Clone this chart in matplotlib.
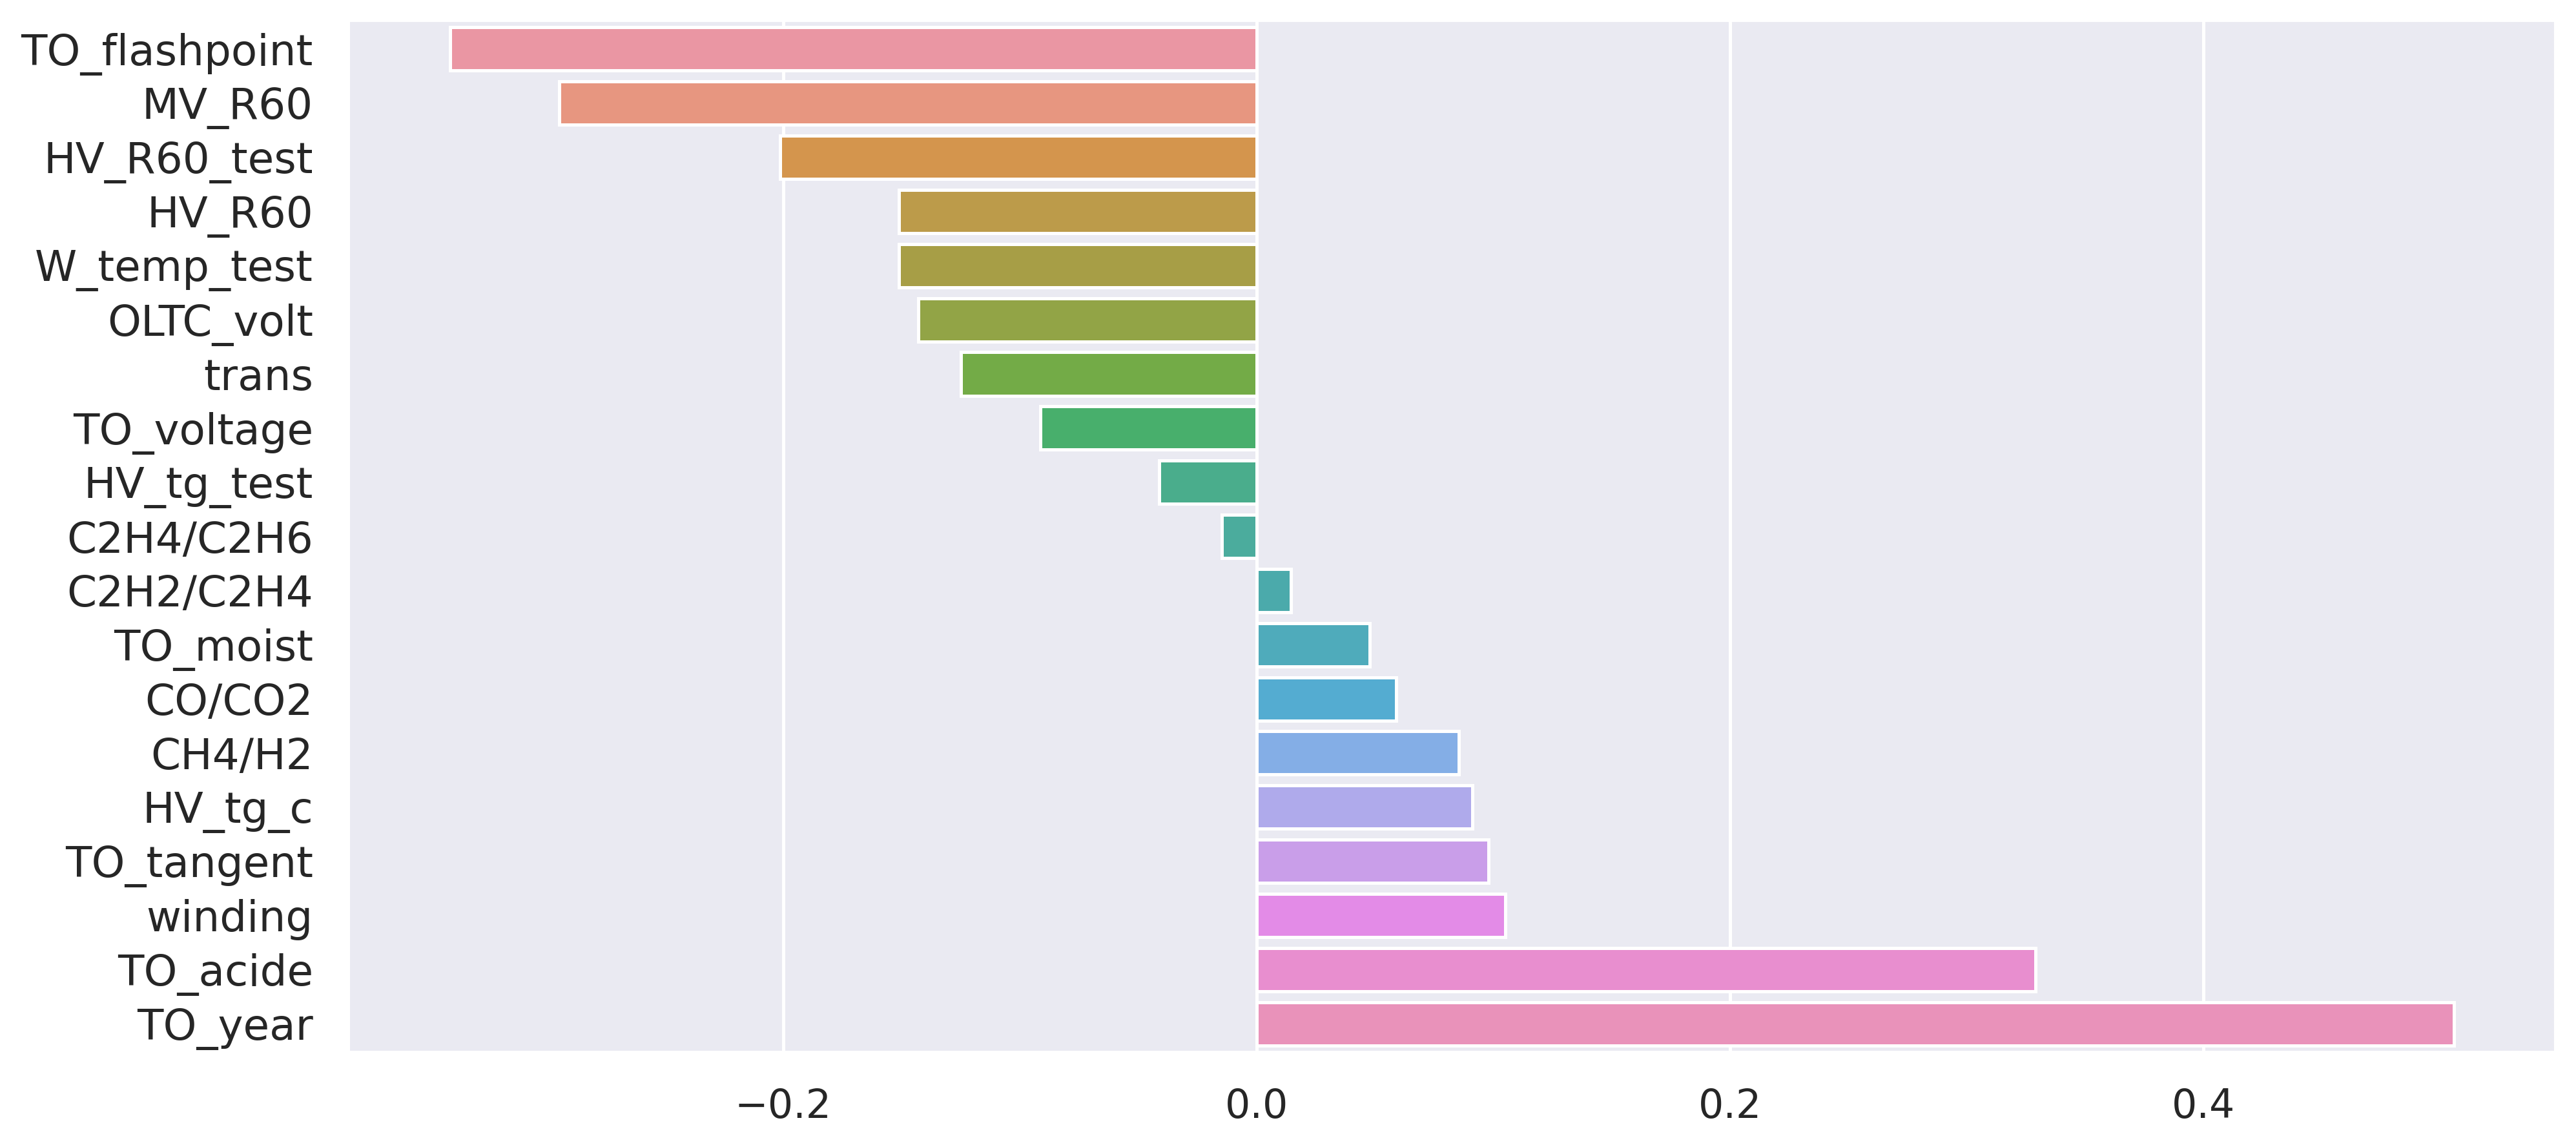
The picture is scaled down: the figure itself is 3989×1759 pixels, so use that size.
import matplotlib
matplotlib.use("Agg")
import matplotlib.pyplot as plt
import seaborn as sns

# correlation of each feature, sorted
features = ["TO_flashpoint", "MV_R60", "HV_R60_test", "HV_R60", "W_temp_test",
            "OLTC_volt", "trans", "TO_voltage", "HV_tg_test", "C2H4/C2H6",
            "C2H2/C2H4", "TO_moist", "CO/CO2", "CH4/H2", "HV_tg_c",
            "TO_tangent", "winding", "TO_acide", "TO_year"]
corr = [-0.3406, -0.2947, -0.2014, -0.1512, -0.1512,
        -0.1430, -0.1248, -0.0914, -0.0413, -0.0148,
        0.0144, 0.0478, 0.0589, 0.0853, 0.0910,
        0.0979, 0.1049, 0.3289, 0.5057]
xticks = [-0.2, 0.0, 0.2, 0.4]

sns.set_style("darkgrid")
plt.rcParams['font.family'] = ['DejaVu Sans']

# old seaborn default for many categories: husl, desaturated
colors = [sns.desaturate(c, 0.75) for c in sns.husl_palette(len(features), l=.7)]

fig = plt.figure(figsize=(15.956, 7.036), dpi=250)
ax = fig.add_axes([0.1359, 0.0750, 0.9915 - 0.1359, 0.9807 - 0.0750])

ypos = list(range(len(features)))
ax.barh(ypos, corr, height=0.8, color=colors, edgecolor="white", linewidth=1.44)

ax.set_yticks(ypos)
ax.set_yticklabels(features)
ax.set_xticks(xticks)
ax.set_ylim(len(features) - 0.5, -0.5)
ax.margins(x=0.05)

ax.grid(axis="y", visible=False)
ax.grid(axis="x", color="white", linewidth=1.44)
ax.tick_params(axis="both", colors=".15", length=0, pad=16.5)
ax.tick_params(axis="x", labelsize=17.8)
ax.tick_params(axis="y", labelsize=19)
for s in ax.spines.values():
    s.set_visible(False)

fig.savefig("out.png", dpi=250)
